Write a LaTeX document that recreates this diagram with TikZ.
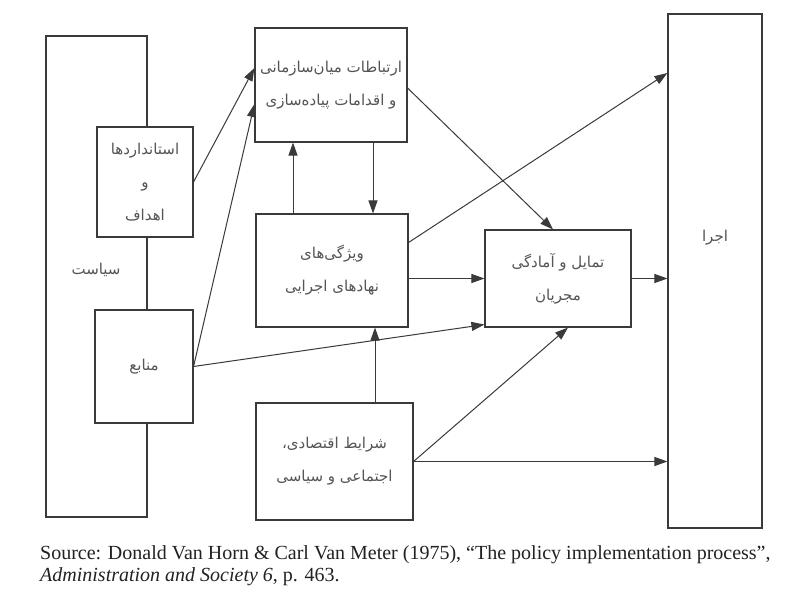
\documentclass[tikz,border=0pt]{standalone}
\usepackage{fontspec}
\setmainfont{Liberation Serif}
\newfontfamily\fafont[Script=Arabic]{DejaVu Sans}
\TeXXeTstate=1
\usetikzlibrary{arrows.meta,calc}
\newcommand{\fline}[1]{\beginR #1\endR}
\definecolor{ink}{HTML}{3A3A3A}
\definecolor{txt}{HTML}{555555}
\definecolor{capt}{HTML}{222222}
\begin{document}
\begin{tikzpicture}[x=1pt,y=-1pt,
  box/.style={draw=ink, line width=1.1pt, fill=white, rectangle, inner sep=0pt,
    align=center, text=txt, font=\fontsize{15}{33}\selectfont\fafont},
  lbl/.style={inner sep=0pt, text=txt, font=\fontsize{15}{33}\selectfont\fafont},
  arr/.style={draw=ink, line width=1pt, -{Triangle[length=13pt,width=9pt]}}]
\useasboundingbox (0,0) rectangle (811,599);
\fill[white] (0,0) rectangle (811,599);

% boxes
\node[box, minimum width=101pt, minimum height=481pt] (policy) at (96.5,276.5) {};
\node[lbl] (policytext) at (96,270) {\fline{سیاست}};
\node[box, minimum width=96pt, minimum height=110pt] (std) at (145,182)
  {\fline{استانداردها}\\\fline{و}\\\fline{اهداف}};
\node[box, minimum width=98pt, minimum height=113pt] (res) at (144,366.5) {\fline{منابع}};
\node[box, minimum width=152pt, minimum height=114pt] (inter) at (331,85)
  {\fline{ارتباطات میان‌سازمانی}\\\fline{و اقدامات پیاده‌سازی}};
\node[box, minimum width=152pt, minimum height=113pt] (char) at (332,270.5)
  {\fline{ویژگی‌های}\\\fline{نهادهای اجرایی}};
\node[box, minimum width=146pt, minimum height=97pt] (disp) at (558,278.5)
  {\fline{تمایل و آمادگی}\\\fline{مجریان}};
\node[box, minimum width=157pt, minimum height=117pt] (env) at (334.5,461.5)
  {\fline{شرایط اقتصادی،}\\\fline{اجتماعی و سیاسی}};
\node[box, minimum width=94pt, minimum height=514pt] (impl) at (715,271) {};
\node[lbl] (impltext) at (715,238) {\fline{اجرا}};

% arrows
\draw[arr] (std.east) -- ($(inter.west)+(0,-17)$);
\draw[arr] (res.east) -- ($(inter.west)+(0,19)$);
\draw[arr] (res.east) -- ($(disp.south west)+(0,-3)$);
\draw[arr] ($(char.north)+(-39,0)$) -- ($(inter.south)+(-38,0)$);
\draw[arr] ($(inter.south)+(42,0)$) -- ($(char.north)+(41,0)$);
\draw[arr] ($(inter.east)+(0,3)$) -- ($(disp.north)+(-5,0)$);
\draw[arr] ($(char.east)+(0,-28)$) -- ($(impl.west)+(0,-198)$);
\draw[arr] (char.east |- disp.west) -- (disp.west);
\draw[arr] (disp.east) -- (disp.east -| impl.west);
\draw[arr] ($(env.north)+(40.5,0)$) -- ($(char.south)+(43,0)$);
\draw[arr] (env.east) -- ($(disp.south)+(10,0)$);
\draw[arr] (env.east) -- (env.east -| impl.west);

% caption
\node[anchor=north west, align=left, inner sep=0pt, text=capt,
  font=\fontsize{20}{22}\selectfont] (source) at (40,545)
  {Source: Donald Van Horn \& Carl Van Meter (1975), “The policy implementation process”,\\
   \textit{Administration and Society 6}, p. 463.};
\end{tikzpicture}
\end{document}
